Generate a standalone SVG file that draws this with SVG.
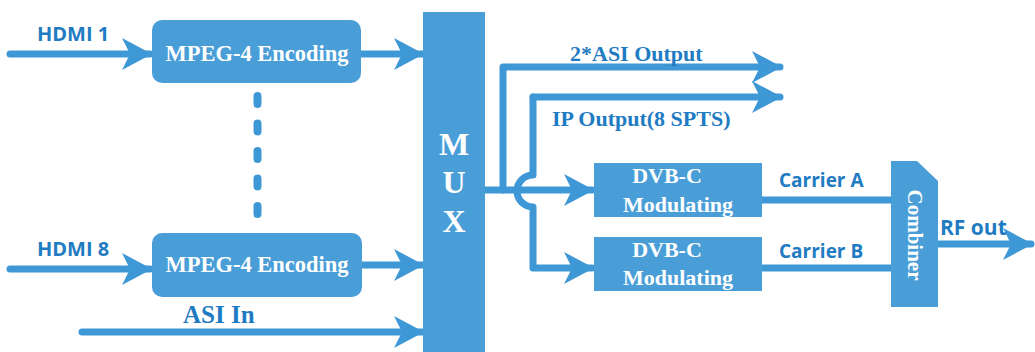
<svg xmlns="http://www.w3.org/2000/svg" width="1035" height="352" viewBox="0 0 1035 352">
<defs>
<style>
.box{fill:#4a9ed8;}
.ln{fill:none;stroke:#3f98d6;stroke-width:7;stroke-linecap:round;stroke-linejoin:round;}
.dot{fill:none;stroke:#3f98d6;stroke-width:8;stroke-linecap:round;stroke-dasharray:8 19.5;}
.wt{fill:#ffffff;font-family:"Liberation Serif","Times New Roman",serif;font-weight:bold;text-anchor:middle;}
.lb{fill:#1f7bc2;font-family:"Open Sans","Liberation Sans",Arial,sans-serif;font-weight:bold;}
.sl{fill:#1f7bc2;font-family:"Liberation Serif","Times New Roman",serif;font-weight:bold;}
</style>
<marker id="ah" viewBox="0 -16 30 32" markerUnits="userSpaceOnUse" markerWidth="30" markerHeight="32" refX="28" refY="0" orient="auto">
<path d="M0,-16 L30,0 L0,16 L8,0 Z" fill="#3f98d6"/>
</marker>
</defs>
<rect width="1035" height="352" fill="#ffffff"/>
<g id="connectors">
<path class="ln" d="M10,54 H150" marker-end="url(#ah)"/>
<path class="ln" d="M361,54 H422" marker-end="url(#ah)"/>
<path class="ln" d="M10,269 H150" marker-end="url(#ah)"/>
<path class="ln" d="M361,265 H422" marker-end="url(#ah)"/>
<path class="ln" d="M82,332 H422" marker-end="url(#ah)"/>
<path class="ln" d="M485,190 H592" marker-end="url(#ah)"/>
<path class="ln" d="M503,190 V67 H780" marker-end="url(#ah)"/>
<path class="ln" d="M533,97 V175 A16,16 0 0 0 533,207 V268 H592" marker-end="url(#ah)"/>
<path class="ln" d="M533,97 H780" marker-end="url(#ah)"/>
<path class="ln" d="M760,200 H893"/>
<path class="ln" d="M760,268 H893"/>
<path class="ln" d="M938,244 H1031" marker-end="url(#ah)"/>
<path class="dot" d="M257.5,96 V216"/>
</g>
<g id="labels">
<text class="lb" x="37" y="41" font-size="20">HDMI 1</text>
<text class="lb" x="37" y="256" font-size="20">HDMI 8</text>
<text class="sl" x="183" y="323" font-size="25">ASI In</text>
<text class="sl" x="570" y="61" font-size="22">2*ASI Output</text>
<text class="sl" x="552" y="126" font-size="22">IP Output(8 SPTS)</text>
<text class="lb" x="779" y="187" font-size="19">Carrier A</text>
<text class="lb" x="779" y="258" font-size="19">Carrier B</text>
<text class="lb" x="940" y="235" font-size="21">RF out</text>
</g>
<g id="enc1">
<rect class="box" x="152" y="20" width="209" height="63" rx="10"/>
<text class="wt" x="257" y="61" font-size="22.5">MPEG-4 Encoding</text>
</g>
<g id="enc2">
<rect class="box" x="152" y="233" width="210" height="64" rx="10"/>
<text class="wt" x="257" y="272" font-size="22.5">MPEG-4 Encoding</text>
</g>
<g id="mux">
<rect class="box" x="423" y="12" width="62" height="345"/>
<text class="wt" x="454" y="155" font-size="32">M</text>
<text class="wt" x="454" y="193" font-size="32">U</text>
<text class="wt" x="454" y="232" font-size="32">X</text>
</g>
<g id="dvb1">
<rect class="box" x="594" y="163" width="168" height="54"/>
<text class="wt" x="667" y="183" font-size="22">DVB-C</text>
<text class="wt" x="678" y="212" font-size="22">Modulating</text>
</g>
<g id="dvb2">
<rect class="box" x="594" y="237" width="168" height="54"/>
<text class="wt" x="667" y="257" font-size="22">DVB-C</text>
<text class="wt" x="678" y="285" font-size="22">Modulating</text>
</g>
<g id="combiner">
<path class="box" d="M891,161 H917 L938,181 V307 H891 Z"/>
<text class="wt" x="0" y="0" font-size="21" transform="translate(908,235) rotate(90)">Combiner</text>
</g>
</svg>
